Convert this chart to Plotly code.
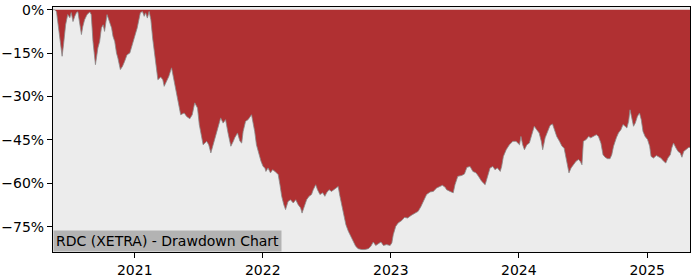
import plotly.graph_objects as go

dates = [
    "2020-05-13", "2020-05-18", "2020-05-23", "2020-05-29", "2020-06-04", "2020-06-08", "2020-06-12", "2020-06-18",
    "2020-06-24", "2020-06-30", "2020-07-04", "2020-07-09", "2020-07-14", "2020-07-19", "2020-07-23", "2020-07-28",
    "2020-08-02", "2020-08-06", "2020-08-11", "2020-08-18", "2020-08-26", "2020-08-30", "2020-09-04", "2020-09-11",
    "2020-09-18", "2020-09-23", "2020-09-28", "2020-10-03", "2020-10-07", "2020-10-14", "2020-10-20", "2020-10-27",
    "2020-10-31", "2020-11-05", "2020-11-10", "2020-11-14", "2020-11-21", "2020-11-27", "2020-12-03", "2020-12-10",
    "2020-12-18", "2020-12-23", "2020-12-27", "2021-01-01", "2021-01-08", "2021-01-13", "2021-01-17", "2021-01-23",
    "2021-01-28", "2021-02-01", "2021-02-06", "2021-02-11", "2021-02-16", "2021-02-21", "2021-02-27", "2021-03-04",
    "2021-03-08", "2021-03-16", "2021-03-22", "2021-03-26", "2021-04-01", "2021-04-08", "2021-04-16", "2021-04-23",
    "2021-04-30", "2021-05-07", "2021-05-12", "2021-05-22", "2021-05-29", "2021-06-07", "2021-06-14", "2021-06-21",
    "2021-06-29", "2021-07-04", "2021-07-10", "2021-07-15", "2021-07-25", "2021-07-31", "2021-08-06", "2021-08-12",
    "2021-08-19", "2021-08-27", "2021-09-03", "2021-09-10", "2021-09-17", "2021-09-24", "2021-10-02", "2021-10-09",
    "2021-10-13", "2021-10-21", "2021-10-28", "2021-11-02", "2021-11-06", "2021-11-13", "2021-11-20", "2021-11-30",
    "2021-12-05", "2021-12-09", "2021-12-14", "2021-12-21", "2021-12-27", "2022-01-02", "2022-01-07", "2022-01-10",
    "2022-01-16", "2022-01-23", "2022-01-29", "2022-02-05", "2022-02-14", "2022-02-19", "2022-02-24", "2022-03-02",
    "2022-03-07", "2022-03-14", "2022-03-21", "2022-03-29", "2022-04-05", "2022-04-12", "2022-04-19", "2022-04-23",
    "2022-04-29", "2022-05-06", "2022-05-13", "2022-05-20", "2022-05-25", "2022-06-01", "2022-06-06", "2022-06-13",
    "2022-06-21", "2022-06-27", "2022-07-02", "2022-07-09", "2022-07-16", "2022-07-23", "2022-07-29", "2022-08-04",
    "2022-08-09", "2022-08-14", "2022-08-20", "2022-08-26", "2022-09-02", "2022-09-09", "2022-09-16", "2022-09-23",
    "2022-09-30", "2022-10-10", "2022-10-19", "2022-10-29", "2022-11-05", "2022-11-12", "2022-11-19", "2022-11-26",
    "2022-12-04", "2022-12-11", "2022-12-20", "2022-12-30", "2023-01-04", "2023-01-08", "2023-01-15", "2023-01-22",
    "2023-02-01", "2023-02-09", "2023-02-18", "2023-02-28", "2023-03-09", "2023-03-20", "2023-03-28", "2023-04-04",
    "2023-04-13", "2023-04-23", "2023-05-02", "2023-05-12", "2023-05-21", "2023-05-28", "2023-06-05", "2023-06-09",
    "2023-06-19", "2023-06-28", "2023-07-03", "2023-07-11", "2023-07-22", "2023-07-30", "2023-08-06", "2023-08-15",
    "2023-08-23", "2023-09-01", "2023-09-08", "2023-09-17", "2023-09-27", "2023-10-03", "2023-10-11", "2023-10-19",
    "2023-10-25", "2023-11-01", "2023-11-09", "2023-11-13", "2023-11-18", "2023-11-26", "2023-12-05", "2023-12-15",
    "2023-12-24", "2024-01-03", "2024-01-07", "2024-01-12", "2024-01-17", "2024-01-24", "2024-01-31", "2024-02-07",
    "2024-02-14", "2024-02-21", "2024-02-28", "2024-03-05", "2024-03-09", "2024-03-16", "2024-03-24", "2024-03-30",
    "2024-04-06", "2024-04-12", "2024-04-18", "2024-04-26", "2024-05-03", "2024-05-09", "2024-05-15", "2024-05-20",
    "2024-05-23", "2024-05-29", "2024-06-05", "2024-06-12", "2024-06-19", "2024-06-24", "2024-06-29", "2024-07-03",
    "2024-07-11", "2024-07-18", "2024-07-24", "2024-08-01", "2024-08-09", "2024-08-15", "2024-08-22", "2024-08-28",
    "2024-09-03", "2024-09-10", "2024-09-17", "2024-09-22", "2024-09-27", "2024-10-05", "2024-10-11", "2024-10-18",
    "2024-10-24", "2024-10-30", "2024-11-04", "2024-11-09", "2024-11-13", "2024-11-18", "2024-11-23", "2024-11-28",
    "2024-12-04", "2024-12-10", "2024-12-15", "2024-12-20", "2024-12-26", "2025-01-02", "2025-01-08", "2025-01-12",
    "2025-01-19", "2025-01-27", "2025-02-02", "2025-02-09", "2025-02-17", "2025-02-23", "2025-03-01", "2025-03-08",
    "2025-03-12", "2025-03-17", "2025-03-24", "2025-03-30", "2025-04-05", "2025-04-10", "2025-04-15", "2025-04-22",
    "2025-04-29", "2025-05-03",
]

drawdown_pct = [
    0.0, 0.0, -0.7, -6.9, -12.1, -16.1, -12.1, -5.2,
    -1.7, -2.8, -1.0, -4.1, -2.3, -1.0, -0.7, -5.2,
    -8.6, -5.8, -3.5, -1.7, -0.8, -1.7, -11.0, -19.0,
    -13.2, -11.0, -6.3, -5.2, -7.5, -1.7, -3.5, -6.3,
    -9.2, -11.0, -15.0, -16.7, -20.7, -19.6, -17.9, -15.6,
    -15.0, -13.2, -11.0, -9.2, -6.3, -3.5, -1.1, -0.6,
    -2.3, -1.1, -2.9, -0.6, -3.5, -9.8, -15.6, -21.3,
    -24.2, -23.3, -24.2, -26.5, -24.8, -23.1, -20.1, -24.8,
    -28.2, -32.8, -36.3, -35.7, -36.9, -37.7, -36.3, -32.2,
    -34.0, -39.7, -43.8, -46.7, -45.5, -46.7, -49.5, -46.7,
    -44.3, -40.3, -37.4, -39.2, -38.0, -42.6, -47.2, -45.5,
    -44.3, -42.6, -45.5, -46.1, -42.1, -38.6, -38.0, -36.3,
    -39.2, -42.1, -46.7, -50.1, -52.4, -54.2, -54.7, -55.9,
    -54.7, -56.4, -55.3, -55.9, -57.0, -60.5, -64.5, -67.4,
    -69.1, -66.3, -65.7, -66.8, -65.7, -67.4, -68.5, -70.3,
    -68.0, -65.7, -64.5, -63.9, -62.2, -60.5, -62.2, -63.9,
    -63.3, -64.5, -63.3, -62.2, -62.8, -62.2, -61.6, -61.1,
    -64.5, -67.4, -70.8, -74.3, -76.6, -78.3, -80.1, -81.8,
    -82.6, -82.9, -82.9, -82.6, -81.8, -80.3, -81.5, -81.0,
    -80.3, -81.5, -81.2, -81.5, -80.6, -77.8, -74.9, -73.7,
    -72.9, -71.8, -72.0, -71.1, -70.6, -69.7, -68.0, -66.3,
    -63.9, -63.0, -62.8, -61.6, -61.1, -60.7, -61.4, -62.2,
    -62.8, -63.3, -60.5, -57.6, -57.3, -56.8, -54.5, -54.2,
    -55.9, -56.4, -57.6, -59.3, -60.5, -57.6, -54.7, -54.2,
    -55.3, -54.7, -55.9, -54.2, -50.7, -48.4, -46.7, -45.5,
    -45.5, -46.7, -43.8, -46.7, -48.4, -46.7, -46.1, -43.2,
    -40.3, -41.5, -42.6, -45.5, -48.4, -44.3, -41.5, -40.0,
    -39.5, -41.5, -43.8, -45.5, -47.2, -47.8, -51.3, -53.6,
    -56.4, -54.7, -53.6, -52.4, -51.8, -52.4, -53.6, -45.5,
    -44.9, -43.8, -44.3, -43.8, -43.2, -43.8, -46.1, -50.1,
    -51.0, -51.5, -51.5, -50.1, -47.2, -44.3, -42.6, -41.5,
    -39.7, -40.3, -40.9, -38.6, -34.6, -37.4, -40.3, -39.2,
    -36.9, -35.7, -38.0, -42.1, -43.8, -44.9, -47.2, -50.7,
    -51.3, -50.4, -50.7, -51.3, -52.4, -53.0, -51.3, -50.1,
    -47.8, -46.1, -47.8, -49.0, -49.5, -51.0, -49.0, -48.4,
    -47.6, -47.6,
]

y_tick_values = [0, -15, -30, -45, -60, -75]
y_tick_labels = ["0%", "\u221215%", "\u221230%", "\u221245%", "\u221260%", "\u221275%"]
x_tick_values = ["2021-01-01", "2022-01-01", "2023-01-01", "2024-01-01", "2025-01-01"]
x_tick_labels = ["2021", "2022", "2023", "2024", "2025"]
title_text = "RDC (XETRA) - Drawdown Chart"

fig = go.Figure()
fig.add_trace(go.Scatter(
    x=dates, y=drawdown_pct, mode="lines", fill="tozeroy",
    fillcolor="#B03032", line=dict(color="#8a8a8a", width=0.8),
    hoverinfo="skip", showlegend=False,
))

font = dict(family="DejaVu Sans", size=14, color="#000000")
fig.update_layout(
    width=700, height=280,
    margin=dict(l=53, r=10, t=7, b=28, autoexpand=False),
    paper_bgcolor="#FFFFFF", plot_bgcolor="#ECECEC",
    font=font, showlegend=False,
    xaxis=dict(
        type="date", range=["2020-05-13", "2025-05-03"],
        tickvals=x_tick_values, ticktext=x_tick_labels,
        showgrid=False, zeroline=False, automargin=False,
        showline=True, linecolor="#000000", linewidth=1, mirror=True,
        ticks="outside", ticklen=5, tickcolor="#000000", tickwidth=1,
        tickfont=font,
    ),
    yaxis=dict(
        range=[-83.75, 0.93],
        tickvals=y_tick_values, ticktext=y_tick_labels,
        showgrid=False, zeroline=False, automargin=False,
        showline=True, linecolor="#000000", linewidth=1, mirror=True,
        ticks="outside", ticklen=5, tickcolor="#000000", tickwidth=1,
        tickfont=font,
    ),
    annotations=[dict(
        text=title_text, xref="paper", yref="paper", x=0, y=0,
        xanchor="left", yanchor="bottom", showarrow=False,
        font=dict(family="DejaVu Sans", size=14, color="#000000"),
        bgcolor="#B3B3B3", borderpad=2,
    )],
)

fig.write_html("out.html")
